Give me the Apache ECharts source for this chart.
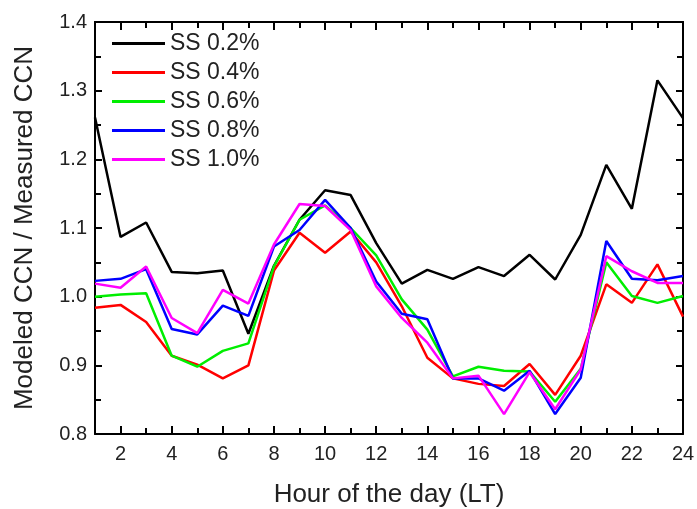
<!DOCTYPE html>
<html>
<head>
<meta charset="utf-8">
<script src="https://cdn.jsdelivr.net/npm/echarts@6/dist/echarts.min.js"></script>
<style>
  html, body { margin: 0; padding: 0; background: #fff; }
  #chart { width: 697px; height: 509px; }
</style>
</head>
<body>
<div id="chart"></div>
<script>
    // hour of the day (LT)
    var hours = [1, 2, 3, 4, 5, 6, 7, 8, 9, 10, 11, 12, 13, 14, 15, 16, 17, 18, 19, 20, 21, 22, 23, 24];
    // modeled / measured CCN ratio for each supersaturation
    var ss02 = [1.261, 1.087, 1.108, 1.036, 1.034, 1.038, 0.946, 1.045, 1.112, 1.155, 1.148, 1.078, 1.019, 1.039, 1.026, 1.043, 1.030, 1.061, 1.025, 1.090, 1.192, 1.128, 1.315, 1.260];
    var ss04 = [0.984, 0.988, 0.963, 0.914, 0.901, 0.881, 0.900, 1.038, 1.093, 1.064, 1.095, 1.050, 0.986, 0.911, 0.881, 0.873, 0.870, 0.902, 0.857, 0.914, 1.018, 0.991, 1.047, 0.971];
    var ss06 = [1.000, 1.003, 1.005, 0.914, 0.898, 0.921, 0.932, 1.044, 1.112, 1.133, 1.100, 1.060, 0.996, 0.952, 0.884, 0.898, 0.892, 0.891, 0.847, 0.895, 1.050, 1.001, 0.991, 1.001];
    var ss08 = [1.023, 1.026, 1.040, 0.953, 0.945, 0.987, 0.972, 1.073, 1.097, 1.141, 1.100, 1.022, 0.975, 0.967, 0.881, 0.881, 0.863, 0.892, 0.829, 0.882, 1.081, 1.026, 1.024, 1.030];
    var ss10 = [1.019, 1.013, 1.044, 0.969, 0.947, 1.010, 0.990, 1.076, 1.135, 1.132, 1.097, 1.015, 0.969, 0.933, 0.881, 0.885, 0.829, 0.890, 0.836, 0.894, 1.059, 1.037, 1.020, 1.020];

    var seriesNames = ['SS 0.2%', 'SS 0.4%', 'SS 0.6%', 'SS 0.8%', 'SS 1.0%'];
    var seriesColors = ['#000000', '#ff0000', '#00ee00', '#0000ff', '#ff00ff'];
    var seriesData = [ss02, ss04, ss06, ss08, ss10];

    // x ticks: labelled even hours, minor ticks on odd hours
    var xMajorTicks = [2, 4, 6, 8, 10, 12, 14, 16, 18, 20, 22, 24];
    var xMinorTicks = [3, 5, 7, 9, 11, 13, 15, 17, 19, 21, 23];

    var font = "'Liberation Sans', Arial, sans-serif";

    function xAx(pos, ticks, len, withLabel) {
        return {
            type: 'value',
            position: pos,
            min: 1,
            max: 24,
            axisLine: {show: withLabel || pos === 'top', lineStyle: {color: '#000', width: 2}},
            axisTick: {show: true, inside: true, length: len, customValues: ticks, lineStyle: {color: '#000', width: 2}},
            axisLabel: withLabel ? {
                show: true, customValues: xMajorTicks, color: '#222', fontSize: 20, fontFamily: font, margin: 10
            } : {show: false},
            splitLine: {show: false}
        };
    }

    function yAx(pos, withLabel) {
        return {
            type: 'value',
            position: pos,
            min: 0.8,
            max: 1.4,
            interval: 0.1,
            axisLine: {show: true, lineStyle: {color: '#000', width: 2}},
            axisTick: {show: true, inside: true, length: 7, lineStyle: {color: '#000', width: 2}},
            minorTick: {show: true, splitNumber: 2, length: 6, lineStyle: {color: '#000', width: 2}},
            axisLabel: withLabel ? {
                show: true, color: '#222', fontSize: 20, fontFamily: font, margin: 8,
                formatter: function (v) { return v.toFixed(1); }
            } : {show: false},
            splitLine: {show: false},
            minorSplitLine: {show: false}
        };
    }

    var xBottom = xAx('bottom', xMajorTicks, 8, true);
    xBottom.name = 'Hour of the day (LT)';
    xBottom.nameLocation = 'middle';
    xBottom.nameGap = 48;
    xBottom.nameTextStyle = {color: '#222', fontSize: 26, fontFamily: font};

    var yLeft = yAx('left', true);
    yLeft.name = 'Modeled CCN / Measured CCN';
    yLeft.nameLocation = 'middle';
    yLeft.nameGap = 57;
    yLeft.nameTextStyle = {color: '#222', fontSize: 26, fontFamily: font};

    var chart = echarts.init(document.getElementById('chart'));
    var option = {
        backgroundColor: '#fff',
        animation: false,
        grid: {left: 95, right: 14, top: 22, bottom: 75, containLabel: false, outerBoundsMode: 'none'},
        legend: {
            orient: 'vertical',
            left: 112,
            top: 32,
            padding: 0,
            icon: 'rect',
            itemWidth: 53,
            itemHeight: 3,
            itemGap: 6,
            textStyle: {color: '#222', fontSize: 23, fontFamily: font, lineHeight: 22},
            data: seriesNames
        },
        xAxis: [
            xBottom,
            xAx('bottom', xMinorTicks, 6, false),
            xAx('top', xMajorTicks, 8, false),
            xAx('top', xMinorTicks, 6, false)
        ],
        yAxis: [yLeft, yAx('right', false)],
        series: seriesNames.map(function (name, i) {
            return {
                name: name,
                type: 'line',
                xAxisIndex: 0,
                yAxisIndex: 0,
                symbol: 'none',
                color: seriesColors[i],
                lineStyle: {width: 2.5, color: seriesColors[i]},
                data: hours.map(function (h, j) { return [h, seriesData[i][j]]; })
            };
        })
    };
    chart.setOption(option);
</script>
</body>
</html>
